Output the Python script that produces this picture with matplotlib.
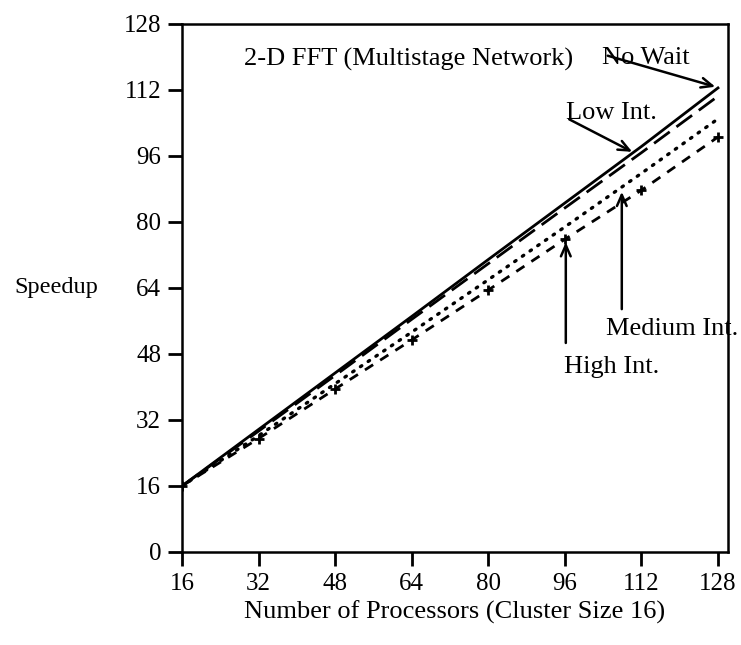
import matplotlib
matplotlib.use("Agg")
import matplotlib.pyplot as plt

processors = [16, 32, 48, 64, 80, 96, 112, 128]
no_wait = [16, 29.7, 43.4, 57.1, 70.9, 84.6, 98.3, 112.5]
low_int = [16, 29.3, 42.8, 56.4, 69.9, 83.4, 96.8, 110.5]
medium_int = [16, 28.2, 40.8, 53.3, 66.0, 78.8, 91.8, 105.0]
high_int = [16, 27.5, 39.5, 51.4, 63.5, 75.8, 87.7, 100.6]
xticks = [16, 32, 48, 64, 80, 96, 112, 128]
yticks = [0, 16, 32, 48, 64, 80, 96, 112, 128]

plt.rcParams['font.family'] = ['Liberation Serif', 'DejaVu Serif']
fig = plt.figure(figsize=(7.41, 6.45), dpi=100)
ax = fig.add_axes([0.2456, 0.1442, 0.9825 - 0.2456, 0.9628 - 0.1442])

ax.plot(processors, no_wait, color='black', lw=2.0, ls='-')
ax.plot(processors, low_int, color='black', lw=2.0, ls=(0, (7, 3)))
ax.plot(processors, medium_int, color='black', lw=2.4, ls=(0, (0.5, 2.3)), dash_capstyle='round')
ax.plot(processors, high_int, color='black', lw=2.0, ls=(0, (3.5, 3)),
        marker='+', ms=7, mew=2.0)

ax.set_xlim(16, 130.1)
ax.set_ylim(0, 128)
ax.set_xticks(xticks)
ax.set_yticks(yticks)
ax.tick_params(direction='out', length=10, width=2, labelsize=18, pad=5, colors='black')
for s in ax.spines.values():
    s.set_linewidth(1.8)

ax.set_xlabel('Number of Processors (Cluster Size 16)', fontsize=19, labelpad=4)
fig.text(14 / 741, 1 - 287 / 645, 'Speedup', fontsize=17.5, ha='left', va='center')

fs = 19
ax.text(29.0, 119.3, '2-D FFT (Multistage Network)', fontsize=fs, ha='left', va='center')

arrow = dict(arrowstyle='->,head_length=0.8,head_width=0.35', color='black', lw=1.8)
ax.text(103.8, 119.8, 'No Wait', fontsize=fs, ha='left', va='center')
ax.annotate('', xy=(128, 112.6), xytext=(104.4, 120.5), arrowprops=arrow)

ax.text(96.2, 106.5, 'Low Int.', fontsize=fs, ha='left', va='center')
ax.annotate('', xy=(110.6, 96.7), xytext=(96.4, 105.2), arrowprops=arrow)

ax.text(104.5, 54.0, 'Medium Int.', fontsize=fs, ha='left', va='center')
ax.annotate('', xy=(107.9, 88.0), xytext=(107.9, 58.2), arrowprops=arrow)

ax.text(95.9, 44.8, 'High Int.', fontsize=fs, ha='left', va='center')
ax.annotate('', xy=(96.2, 75.8), xytext=(96.2, 50.0), arrowprops=arrow)

fig.savefig('out.png', dpi=100)
